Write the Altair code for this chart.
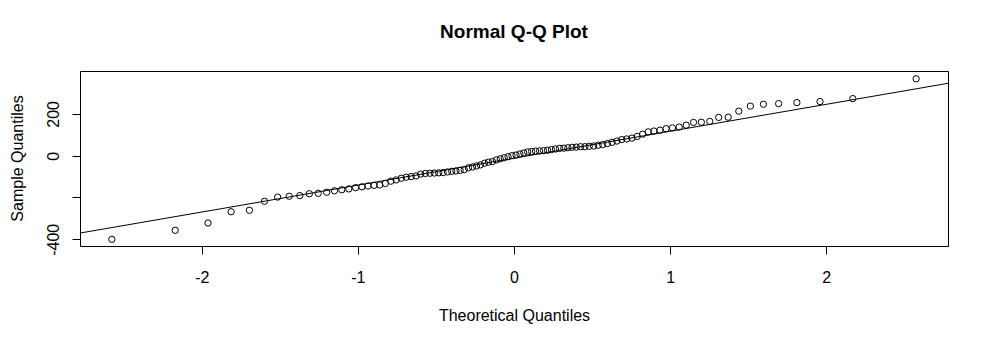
import altair as alt
import pandas as pd

# Theoretical quantiles (normal, n = 100)
theoretical = [
    -2.576, -2.170, -1.960, -1.812, -1.695, -1.598, -1.514, -1.440, -1.372, -1.311,
    -1.254, -1.200, -1.150, -1.103, -1.058, -1.015, -0.974, -0.935, -0.896, -0.860,
    -0.824, -0.789, -0.755, -0.722, -0.690, -0.659, -0.628, -0.598, -0.568, -0.539,
    -0.510, -0.482, -0.454, -0.426, -0.399, -0.372, -0.345, -0.319, -0.292, -0.266,
    -0.240, -0.215, -0.189, -0.164, -0.138, -0.113, -0.088, -0.063, -0.038, -0.013,
    0.013, 0.038, 0.063, 0.088, 0.113, 0.138, 0.164, 0.189, 0.215, 0.240,
    0.266, 0.292, 0.319, 0.345, 0.372, 0.399, 0.426, 0.454, 0.482, 0.510,
    0.539, 0.568, 0.598, 0.628, 0.659, 0.690, 0.722, 0.755, 0.789, 0.824,
    0.860, 0.896, 0.935, 0.974, 1.015, 1.058, 1.103, 1.150, 1.200, 1.254,
    1.311, 1.372, 1.440, 1.514, 1.598, 1.695, 1.812, 1.960, 2.170, 2.576,
]

# Sample quantiles (sorted sample values)
sample = [
    -400, -357, -322, -268, -261, -218, -198, -194, -191, -182,
    -180, -175, -168, -163, -159, -153, -149, -145, -142, -140,
    -133, -122, -116, -108, -103, -100, -97, -88, -85, -84,
    -83, -82, -81, -78, -75, -73, -70, -67, -58, -54,
    -49, -44, -36, -31, -28, -20, -15, -10, -5, 0,
    3, 8, 13, 18, 20, 22, 23, 24, 26, 29,
    32, 35, 36, 38, 40, 41, 43, 43, 45, 46,
    50, 53, 58, 64, 70, 77, 80, 84, 92, 103,
    114, 118, 122, 129, 133, 137, 146, 159, 160, 164,
    183, 184, 213, 237, 246, 249, 254, 259, 273, 368,
]

# Reference line (through the quartiles): intercept and slope
line_intercept = -12.0
line_slope = 128.8

x_domain = [-2.78, 2.78]
y_domain = [-432, 405]
x_ticks = [-2, -1, 0, 1, 2]
y_ticks = [-400, -200, 0, 200]

pts = pd.DataFrame({"x": theoretical, "y": sample})
line_df = pd.DataFrame({
    "x": x_domain,
    "y": [line_intercept + line_slope * v for v in x_domain],
})

FONT = "Liberation Sans"

x_enc = alt.X(
    "x:Q",
    scale=alt.Scale(domain=x_domain, nice=False, zero=False),
    axis=alt.Axis(
        values=x_ticks, title="Theoretical Quantiles", grid=False, domain=False,
        tickSize=8, tickColor="black", labelColor="black", labelFontSize=16,
        labelFont=FONT, labelPadding=15, labelBaseline="top",
        labelExpr="'' + datum.value",
        titleFont=FONT, titleFontSize=16, titleFontWeight="normal",
        titleColor="black", titleX=434, titleY=74, titleBaseline="alphabetic",
        titleAlign="center",
    ),
)
y_enc = alt.Y(
    "y:Q",
    scale=alt.Scale(domain=y_domain, nice=False, zero=False),
    axis=alt.Axis(
        values=y_ticks, title="Sample Quantiles", grid=False, domain=False,
        tickSize=8, tickColor="black", labelColor="black", labelFontSize=16,
        labelFont=FONT, labelAngle=-90, labelAlign="center",
        labelBaseline="middle", labelPadding=19,
        labelExpr="datum.value == -200 ? '' : '' + datum.value",
        titleFont=FONT, titleFontSize=16, titleFontWeight="normal",
        titleColor="black", titleAngle=-90, titleX=-58, titleY=87,
        titleAlign="center", titleBaseline="alphabetic",
    ),
)

points = alt.Chart(pts).mark_point(
    shape="circle", filled=False, color="black", size=40, strokeWidth=1, opacity=1
).encode(x=x_enc, y=y_enc)

ref_line = alt.Chart(line_df).mark_line(color="black", strokeWidth=1, clip=True).encode(
    x=alt.X("x:Q", scale=alt.Scale(domain=x_domain, nice=False, zero=False)),
    y=alt.Y("y:Q", scale=alt.Scale(domain=y_domain, nice=False, zero=False)),
)

chart = (
    alt.layer(points, ref_line)
    .properties(
        width=868,
        height=175,
        title=alt.TitleParams(
            "Normal Q-Q Plot", font=FONT, fontSize=19, fontWeight="bold",
            color="black", anchor="middle", frame="group", baseline="alphabetic",
            offset=14,
        ),
        autosize=alt.AutoSizeParams(type="none"),
        padding={"left": 80, "top": 71, "right": 36, "bottom": 108},
        background="white",
    )
    .configure_view(stroke="black", strokeWidth=1)
)

chart.save("out.html", embed_options={"renderer": "svg", "actions": False})
